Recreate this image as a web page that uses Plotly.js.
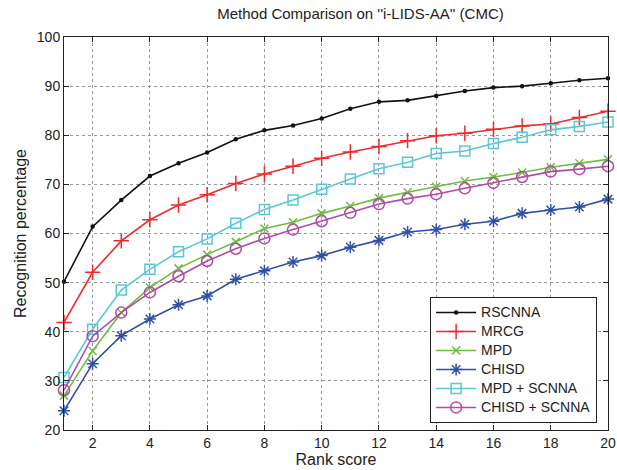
<!DOCTYPE html>
<html>
<head>
<meta charset="utf-8">
<script src="https://cdn.plot.ly/plotly-3.0.1.min.js"></script>
<style>html,body{margin:0;padding:0;background:#fff;}#chart{width:617px;height:470px;}</style>
</head>
<body>
<div id="chart"></div>
<script>
const ranks = [1,2,3,4,5,6,7,8,9,10,11,12,13,14,15,16,17,18,19,20];
const rscnna = [50.2,61.4,66.8,71.7,74.3,76.5,79.2,81.0,82.0,83.4,85.4,86.8,87.1,88.0,89.0,89.7,90.0,90.6,91.2,91.6];
const mrcg = [41.9,52.1,58.5,62.8,65.8,67.9,70.2,72.1,73.7,75.3,76.6,77.7,78.9,79.9,80.4,81.2,81.9,82.3,83.6,84.9];
const mpd = [27.0,36.1,43.9,49.0,52.9,55.7,58.3,61.0,62.3,64.1,65.6,67.2,68.4,69.5,70.7,71.5,72.4,73.5,74.3,75.1];
const chisd = [23.9,33.5,39.2,42.6,45.5,47.3,50.7,52.4,54.2,55.5,57.2,58.6,60.3,60.8,61.9,62.5,64.1,64.8,65.4,67.0];
const mpdScnna = [30.7,40.5,48.5,52.7,56.3,58.9,62.1,64.9,66.8,69.0,71.1,73.2,74.5,76.3,76.8,78.3,79.6,81.1,81.8,82.7];
const chisdScnna = [28.1,39.1,43.9,48.0,51.3,54.4,56.9,59.0,60.8,62.5,64.2,66.0,67.1,68.0,69.2,70.3,71.5,72.6,73.1,73.7];
const seriesNames = ["RSCNNA","MRCG","MPD","CHISD","MPD + SCNNA","CHISD + SCNNA"];
const xTicks = [2,4,6,8,10,12,14,16,18,20];
const yTicks = [20,30,40,50,60,70,80,90,100];

const styles = [
  {color:'#111111', symbol:'circle', size:3},
  {color:'#f02a2a', symbol:'cross-thin', size:11},
  {color:'#6cbf3e', symbol:'x-thin', size:8},
  {color:'#2f50a6', symbol:'asterisk', size:10},
  {color:'#5cc6d8', symbol:'square-open', size:10},
  {color:'#b24aa6', symbol:'circle-open', size:11}
];
const ys = [rscnna, mrcg, mpd, chisd, mpdScnna, chisdScnna];
const traces = ys.map((y,i) => ({
  x: ranks, y: y, name: '<span style="font-size:14px">' + seriesNames[i] + '</span>',
  type:'scatter', mode:'lines+markers', cliponaxis:false,
  line:{color:styles[i].color, width:1.6},
  marker:{symbol:styles[i].symbol, size:styles[i].size, color:styles[i].color,
          line:{color:styles[i].color, width:1.5}}
}));

const font = "Liberation Sans, Arial, sans-serif";
const axisCommon = {
  showline:true, linecolor:'#222', linewidth:1, mirror:'ticks',
  ticks:'inside', ticklen:5, tickcolor:'#222', tickwidth:1,
  showgrid:true, gridcolor:'#999', griddash:'dot', gridwidth:1,
  zeroline:false, tickfont:{family:font, size:14, color:'#222'}
};
const layout = {
  width:617, height:470,
  margin:{l:64, r:9, t:37, b:40},
  paper_bgcolor:'#fff', plot_bgcolor:'#fff',
  font:{family:font, color:'#222'},
  title:{text:"Method Comparison on ''i-LIDS-AA'' (CMC)", font:{family:font, size:15, color:'#222'},
         x:0.545, xref:'paper', xanchor:'center', y:0.97, yref:'container', yanchor:'middle'},
  xaxis: Object.assign({}, axisCommon, {range:[1,20], tickvals:xTicks, ticktext:xTicks.map(String),
         title:{text:'Rank score', font:{family:font, size:16, color:'#222'}, standoff:2}}),
  yaxis: Object.assign({}, axisCommon, {range:[20,100], tickvals:yTicks, ticktext:yTicks.map(String),
         title:{text:'Recognition percentage', font:{family:font, size:16, color:'#222'}, standoff:6}}),
  legend:{x:0.98, xanchor:'right', y:0.018, yanchor:'bottom', bgcolor:'#fff',
          bordercolor:'#222', borderwidth:1, font:{family:font, size:12, color:'#222'},
          tracegroupgap:0, itemwidth:40},
  showlegend:true
};
Plotly.newPlot('chart', traces, layout, {displayModeBar:false, staticPlot:true});
</script>
</body>
</html>
